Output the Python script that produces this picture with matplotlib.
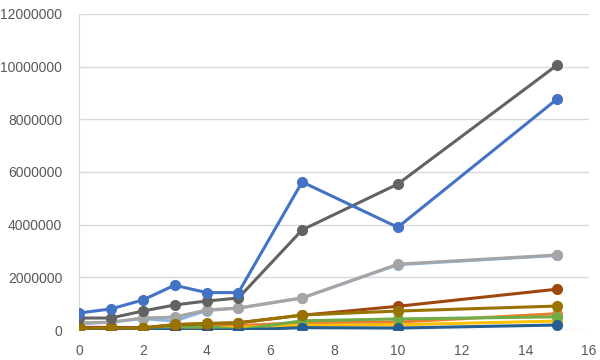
import matplotlib
matplotlib.use("Agg")
import matplotlib.pyplot as plt

# x positions shared by every series
x = [0, 1, 2, 3, 4, 5, 7, 10, 15]

# series values (drawing order as in the original)
light_blue = [230000, 300000, 430000, 340000, 740000, 830000, 1220000, 2480000, 2830000]
gray = [270000, 300000, 455000, 490000, 760000, 835000, 1215000, 2500000, 2850000]
orange = [30000, 50000, 60000, 120000, 150000, 170000, 280000, 300000, 620000]
gold = [10000, 20000, 30000, 60000, 80000, 100000, 180000, 200000, 340000]
green = [5000, 10000, 20000, 100000, 150000, 10000, 350000, 420000, 500000]
dark_blue = [5000, 5000, 10000, 0, 0, 0, 90000, 75000, 190000]
brown = [100000, 100000, 90000, 200000, 240000, 280000, 560000, 900000, 1550000]
dark_gold = [60000, 80000, 60000, 210000, 250000, 265000, 570000, 720000, 910000]
dark_gray = [455000, 455000, 720000, 950000, 1100000, 1215000, 3800000, 5540000, 10060000]
blue = [645000, 800000, 1140000, 1700000, 1420000, 1420000, 5620000, 3900000, 8770000]

series = [
    (light_blue, "#8DB4E2"),
    (gray, "#A5A5A5"),
    (orange, "#ED7D31"),
    (gold, "#FFC000"),
    (green, "#70AD47"),
    (dark_blue, "#255E91"),
    (brown, "#9E480E"),
    (dark_gold, "#997300"),
    (dark_gray, "#636363"),
    (blue, "#4472C4"),
]

plt.rcParams["font.family"] = ["Liberation Sans", "DejaVu Sans"]

fig = plt.figure(figsize=(6, 3.6), dpi=100)
ax = fig.add_axes([0.1317, 0.0833, 0.85, 0.878])

for vals, col in series:
    ax.plot(x, vals, color=col, lw=2.2, marker="o", ms=7, zorder=3)

ax.set_xlim(0, 16)
ax.set_ylim(0, 12000000)
ax.set_xticks(range(0, 17, 2))
ax.set_yticks(range(0, 12000001, 2000000))
ax.ticklabel_format(style="plain", axis="y", useOffset=False)
ax.grid(axis="y", color="#D9D9D9", lw=1)
ax.set_axisbelow(True)
for s in ["top", "right", "bottom"]:
    ax.spines[s].set_visible(False)
ax.spines["left"].set_color("#D9D9D9")
ax.tick_params(length=0, colors="#595959", labelsize=10)
ax.tick_params(axis="x", pad=10)
ax.tick_params(axis="y", pad=12)

fig.savefig("out.png", dpi=100)
